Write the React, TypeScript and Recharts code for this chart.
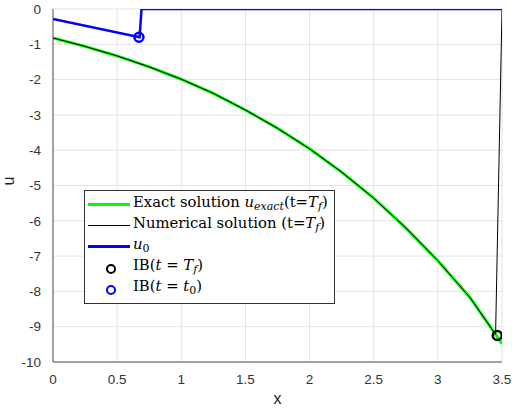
import {
  ComposedChart,
  Line,
  Scatter,
  XAxis,
  YAxis,
  CartesianGrid,
  Legend,
  Label,
} from 'recharts';

// exact solution at t = Tf
const exactX = [0, 0.25, 0.5, 0.75, 1, 1.25, 1.5, 1.75, 2, 2.25, 2.5, 2.75, 3, 3.25, 3.45, 3.5];
const exactU = [-0.82, -1.06, -1.33, -1.64, -1.99, -2.39, -2.86, -3.38, -3.96, -4.62, -5.36, -6.2, -7.13, -8.17, -9.22, -9.48];

// numerical solution at t = Tf
const numX = [0, 0.25, 0.5, 0.75, 1, 1.25, 1.5, 1.75, 2, 2.25, 2.5, 2.75, 3, 3.25, 3.45, 3.5];
const numU = [-0.82, -1.06, -1.33, -1.64, -1.99, -2.39, -2.86, -3.38, -3.96, -4.62, -5.36, -6.2, -7.13, -8.17, -9.22, 0];

// initial condition
const u0X = [0, 0.675, 0.69, 3.5];
const u0U = [-0.28, -0.8, 0, 0];

// interface positions
const ibTfX = [3.463];
const ibTfU = [-9.25];
const ibT0X = [0.67];
const ibT0U = [-0.8];

const xTicks = [0, 0.5, 1, 1.5, 2, 2.5, 3, 3.5];
const yTicks = [0, -1, -2, -3, -4, -5, -6, -7, -8, -9, -10];

const zip = (xs: number[], us: number[]) => xs.map((x, i) => ({ x, u: us[i] }));

const exactData = zip(exactX, exactU);
const numData = zip(numX, numU);
const u0Data = zip(u0X, u0U);
const ibTfData = zip(ibTfX, ibTfU);
const ibT0Data = zip(ibT0X, ibT0U);

const tickStyle = { fontFamily: 'Liberation Sans, Arial, sans-serif', fontSize: 13.5, fill: '#333' };

const Sub = ({ children }: { children: React.ReactNode }) => (
  <sub style={{ fontSize: 11, verticalAlign: -3 }}>{children}</sub>
);

const LegendBox = () => {
  const row = { display: 'flex', alignItems: 'center', height: 21 };
  const sample = (color: string, w: number) => (
    <span style={{ display: 'inline-block', width: 42, height: w, background: color, marginRight: 3, flexShrink: 0 }} />
  );
  const marker = (color: string) => (
    <span style={{ display: 'inline-block', width: 45, textAlign: 'center', flexShrink: 0 }}>
      <span
        style={{
          display: 'inline-block',
          width: 6,
          height: 6,
          borderRadius: '50%',
          border: `2.5px solid ${color}`,
          verticalAlign: 'middle',
        }}
      />
    </span>
  );
  return (
    <div
      style={{
        border: '1px solid #333',
        background: '#fff',
        padding: '3px 6px 4px 3px',
        fontFamily: '"DejaVu Serif", serif',
        fontSize: 14.8,
        color: '#000',
        lineHeight: '20px',
        whiteSpace: 'nowrap',
        textAlign: 'left',
      }}
    >
      <div style={row}>
        {sample('#00ff00', 3)}
        <span>
          Exact solution <i>u</i>
          <Sub>
            <i>exact</i>
          </Sub>
          (t=<i>T</i>
          <Sub>
            <i>f</i>
          </Sub>
          )
        </span>
      </div>
      <div style={row}>
        {sample('#000', 1)}
        <span>
          Numerical solution (t=<i>T</i>
          <Sub>
            <i>f</i>
          </Sub>
          )
        </span>
      </div>
      <div style={row}>
        {sample('#0000ff', 3)}
        <span>
          <i>u</i>
          <Sub>0</Sub>
        </span>
      </div>
      <div style={row}>
        {marker('#000')}
        <span>
          IB(<i>t</i> = <i>T</i>
          <Sub>
            <i>f</i>
          </Sub>
          )
        </span>
      </div>
      <div style={row}>
        {marker('#0000ff')}
        <span>
          IB(<i>t</i> = <i>t</i>
          <Sub>0</Sub>)
        </span>
      </div>
    </div>
  );
};

const App = () => {
  return (
    <div style={{ position: 'absolute', left: 0, top: 0 }}>
      <ComposedChart width={512} height={410} margin={{ top: 9, right: 10, left: 0, bottom: 0 }}>
        <CartesianGrid stroke="#e3e3e3" />
        <XAxis
          type="number"
          dataKey="x"
          domain={[0, 3.5]}
          ticks={xTicks}
          allowDataOverflow
          height={48}
          tickLine={false}
          stroke="#555"
          tick={tickStyle}
          tickMargin={6}
        >
          <Label value="x" position="insideBottom" offset={6} style={{ ...tickStyle, fontSize: 16, fill: '#222' }} />
        </XAxis>
        <YAxis
          type="number"
          dataKey="u"
          domain={[-10, 0]}
          ticks={yTicks}
          allowDataOverflow
          width={53}
          tickLine={false}
          stroke="#555"
          tick={tickStyle}
          tickMargin={6}
        >
          <Label value="u" angle={-90} position="insideLeft" offset={8} style={{ ...tickStyle, fontSize: 16, fill: '#222' }} />
        </YAxis>
        <Legend
          content={<LegendBox />}
          layout="horizontal"
          verticalAlign="middle"
          align="center"
          wrapperStyle={{ left: 84, top: 190, width: 'auto' }}
        />
        <Line data={exactData} dataKey="u" type="linear" stroke="#00ff00" strokeWidth={3} dot={false} isAnimationActive={false} />
        <Line data={numData} dataKey="u" type="linear" stroke="#000" strokeWidth={1} dot={false} isAnimationActive={false} />
        <Line data={u0Data} dataKey="u" type="linear" stroke="#0000ff" strokeWidth={2.5} dot={false} isAnimationActive={false} />
        <Scatter
          data={ibTfData}
          dataKey="u"
          isAnimationActive={false}
          shape={(p: any) => <circle cx={p.cx} cy={p.cy} r={4.5} fill="none" stroke="#000" strokeWidth={2.5} />}
        />
        <Scatter
          data={ibT0Data}
          dataKey="u"
          isAnimationActive={false}
          shape={(p: any) => <circle cx={p.cx} cy={p.cy} r={4.5} fill="none" stroke="#0000ff" strokeWidth={2.5} />}
        />
      </ComposedChart>
    </div>
  );
};

export default App;
